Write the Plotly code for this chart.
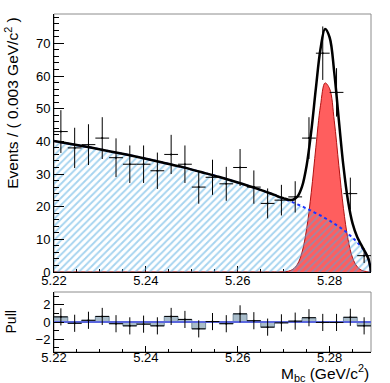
import numpy as np
import plotly.graph_objects as go

# M_bc range of the fit
X_MIN, X_MAX = 5.22, 5.289
BIN_HALF = 0.0015

# data histogram (bin centres, events per 0.003 GeV/c^2)
bin_centers = [5.2215, 5.2245, 5.2275, 5.2305, 5.2335, 5.2365, 5.2395, 5.2425,
               5.2455, 5.2485, 5.2515, 5.2545, 5.2575, 5.2605, 5.2635, 5.2665,
               5.2695, 5.2725, 5.2755, 5.2785, 5.2815, 5.2845, 5.2875]
counts = [43, 38, 39, 41, 35, 33, 33, 31, 36, 33, 26, 29,
          27, 32, 26, 21, 22, 23, 41, 67, 55, 24, 5]

# pulls per bin
pulls = [0.6, -0.15, 0.2, 0.65, -0.2, -0.45, -0.25, -0.45, 0.65, 0.3, -0.8, 0.05,
         -0.2, 0.95, 0.15, -0.6, -0.1, 0.1, 0.5, -0.05, -0.05, 0.55, -0.45]
pull_err = [1.0] * len(pulls)

# fit curves
m_fit = [5.220, 5.224, 5.228, 5.232, 5.236, 5.240, 5.244, 5.248, 5.252, 5.256,
         5.260, 5.264, 5.266, 5.267, 5.268, 5.269, 5.270, 5.271, 5.272, 5.273,
         5.274, 5.275, 5.276, 5.277, 5.278, 5.279, 5.280, 5.281, 5.282, 5.283,
         5.284, 5.285, 5.286, 5.287, 5.288, 5.2885, 5.289]
bkg_fit = [40.1, 39.1, 38.1, 37.0, 35.9, 34.7, 33.4, 32.1, 30.6, 29.1,
           27.4, 25.6, 24.6, 24.1, 23.6, 23.0, 22.5, 21.9, 21.3, 20.7,
           20.1, 19.4, 18.75, 18.0, 17.3, 16.5, 15.7, 14.8, 13.9, 12.9,
           11.75, 10.5, 9.1, 7.5, 5.3, 3.7, 0.0]
sig_fit = [0, 0, 0, 0, 0, 0, 0, 0, 0, 0,
           0, 0, 0, 0, 0, 0.01, 0.06, 0.24, 0.82, 2.4,
           6.1, 13.3, 24.4, 38.2, 50.9, 57.9, 56.1, 46.3, 32.6, 19.5,
           10.0, 4.3, 1.6, 0.5, 0.14, 0.07, 0.04]
tot_fit = list(np.array(bkg_fit) + np.array(sig_fit))

FONT = "Liberation Sans, Arial, sans-serif"

fig = go.Figure()

# signal component
fig.add_trace(go.Scatter(x=m_fit, y=sig_fit, mode="lines", fill="tozeroy",
                         fillcolor="#ff5e5e", line=dict(color="#b01010", width=1),
                         line_shape="spline", xaxis="x", yaxis="y"))
# background component, hatched
fig.add_trace(go.Scatter(x=m_fit, y=bkg_fit, mode="lines", fill="tozeroy",
                         fillcolor="rgba(0,0,0,0)",
                         fillpattern=dict(shape="/", fgcolor="#4ea9e0", size=5, solidity=0.38),
                         line=dict(width=0), line_shape="spline", xaxis="x", yaxis="y"))
fig.add_trace(go.Scatter(x=m_fit, y=bkg_fit, mode="lines",
                         line=dict(color="#1a33ff", width=2, dash="dot"),
                         line_shape="spline", xaxis="x", yaxis="y"))
# total fit
fig.add_trace(go.Scatter(x=m_fit, y=tot_fit, mode="lines",
                         line=dict(color="black", width=2.5),
                         line_shape="spline", xaxis="x", yaxis="y"))
# data
fig.add_trace(go.Scatter(x=bin_centers, y=counts, mode="markers",
                         marker=dict(color="black", size=2),
                         error_x=dict(type="constant", value=BIN_HALF, width=0, thickness=1, color="black"),
                         error_y=dict(type="data", array=np.sqrt(counts), width=0, thickness=1, color="black"),
                         xaxis="x", yaxis="y"))

# pull panel
fig.add_trace(go.Bar(x=bin_centers, y=pulls, base=0, width=2 * BIN_HALF,
                     marker=dict(color="#a8bcca", line=dict(color="#71879a", width=1)),
                     xaxis="x2", yaxis="y2"))
fig.add_trace(go.Scatter(x=[X_MIN, X_MAX], y=[0, 0], mode="lines",
                         line=dict(color="#5a66dd", width=2), xaxis="x2", yaxis="y2"))
fig.add_trace(go.Scatter(x=bin_centers, y=pulls, mode="markers",
                         marker=dict(color="black", size=2),
                         error_x=dict(type="constant", value=BIN_HALF, width=0, thickness=1, color="black"),
                         error_y=dict(type="data", array=pull_err, width=0, thickness=1, color="black"),
                         xaxis="x2", yaxis="y2"))

tickfont = dict(family=FONT, size=13, color="black")
xcommon = dict(range=[X_MIN, X_MAX], tickvals=[5.22, 5.24, 5.26, 5.28],
               ticktext=["5.22", "5.24", "5.26", "5.28"],
               ticks="inside", ticklen=6, tickcolor="black", showline=True,
               linecolor="black", linewidth=1, showgrid=False, zeroline=False,
               tickfont=tickfont,
               minor=dict(ticks="inside", ticklen=3, dtick=0.005, tick0=5.22, tickcolor="black"))

fig.update_layout(
    width=390, height=383,
    margin=dict(l=54, r=19, t=14, b=31),
    paper_bgcolor="white", plot_bgcolor="white",
    showlegend=False, barmode="overlay",
    xaxis=dict(**xcommon, anchor="y", layer="below traces", ticklabelstandoff=-4),
    yaxis=dict(domain=[0.2367, 1], range=[0, 79], dtick=10, tick0=0,
               ticks="inside", ticklen=10, tickcolor="black", showline=True,
               linecolor="black", showgrid=False, zeroline=False, tickfont=tickfont,
               minor=dict(ticks="inside", ticklen=5, dtick=2, tickcolor="black")),
    xaxis2=dict(**xcommon, anchor="y2", ticklabelstandoff=-7),
    yaxis2=dict(domain=[0, 0.1775], range=[-3.5, 3.5], tickvals=[-2, 0, 2],
                ticks="inside", ticklen=10, tickcolor="black", showline=True,
                linecolor="black", showgrid=False, zeroline=False, tickfont=tickfont,
                minor=dict(ticks="inside", ticklen=5, dtick=1, tickcolor="black")),
    shapes=[
        dict(type="rect", xref="x domain", yref="y domain", x0=0, x1=1, y0=0, y1=1,
             line=dict(color="#8c8c8c", width=1), layer="below"),
        dict(type="rect", xref="x2 domain", yref="y2 domain", x0=0, x1=1, y0=0, y1=1,
             line=dict(color="#8c8c8c", width=1), layer="below"),
    ],
    annotations=[
        dict(text="Events / ( 0.003 GeV/c<sup>2</sup> )", textangle=-90,
             xref="paper", yref="paper", x=-0.135, y=0.735, showarrow=False,
             xanchor="center", yanchor="middle", font=dict(family=FONT, size=15.5, color="black")),
        dict(text="Pull", textangle=-90,
             xref="paper", yref="paper", x=-0.137, y=0.089, showarrow=False,
             xanchor="center", yanchor="middle", font=dict(family=FONT, size=14, color="black")),
        dict(text="M<sub>bc</sub> (GeV/c<sup>2</sup>)",
             xref="paper", yref="paper", x=1.0, y=-0.062, showarrow=False,
             xanchor="right", yanchor="middle", font=dict(family=FONT, size=15.5, color="black")),
    ],
)

fig.write_html("out.html", config={"displayModeBar": False},
               post_script="document.body.style.margin='0px';")
